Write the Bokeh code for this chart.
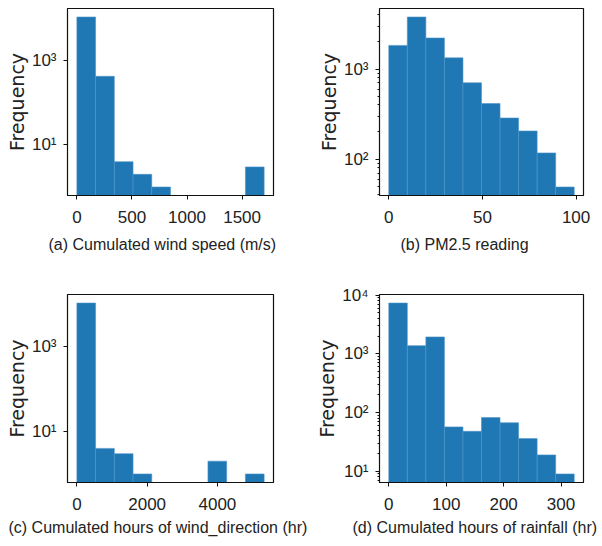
from bokeh.plotting import figure
from bokeh.models import Range1d, FixedTicker, Title
from bokeh.layouts import column, row
from bokeh.embed import file_html
from bokeh.resources import INLINE
import math

# ---- data ----
wind_speed_edges = [0, 170, 340, 510, 680, 850, 1020, 1190, 1360, 1530, 1700]
wind_speed_counts = [11000, 428, 4, 2, 1, 0, 0, 0, 0, 3]

pm25_edges = [0, 9.9, 19.8, 29.7, 39.6, 49.5, 59.4, 69.3, 79.2, 89.1, 99.0]
pm25_counts = [1830, 3780, 2210, 1330, 703, 414, 286, 205, 117, 49]

wind_dir_edges = [0, 533, 1066, 1599, 2132, 2665, 3198, 3731, 4264, 4797, 5330]
wind_dir_counts = [10600, 4, 3, 1, 0, 0, 0, 2, 0, 1]

rain_edges = [0, 32.3, 64.6, 96.9, 129.2, 161.5, 193.8, 226.1, 258.4, 290.7, 323]
rain_counts = [7330, 1380, 1940, 57, 48, 82, 67, 36, 19, 9]

captions = ["(a) Cumulated wind speed (m/s)", "(b) PM2.5 reading",
            "(c) Cumulated hours of wind_direction (hr)", "(d) Cumulated hours of rainfall (hr)"]
xticks = [[0, 500, 1000, 1500], [0, 50, 100], [0, 2000, 4000], [0, 100, 200, 300]]
yticks = [[10, 1000], [100, 1000], [10, 1000], [10, 100, 1000, 10000]]
sup = {10: "10\u00b9", 100: "10\u00b2", 1000: "10\u00b3", 10000: "10\u2074"}

BAR = "#1f77b4"
SANS = "Liberation Sans"
INK = "#222222"


def minor_ticks(lo, hi):
    out = []
    for e in range(int(math.floor(math.log10(lo))), int(math.ceil(math.log10(hi))) + 1):
        for m in range(2, 10):
            v = m * 10 ** e
            if lo <= v <= hi:
                out.append(v)
    return out


def make(edges, counts, caption, xt, yt, fw, fh, left, right, top, bottom,
         cap_offset, cap_standoff, show_minor):
    xs = edges[0]
    xe = edges[-1]
    xm = 0.05 * (xe - xs)
    nz = [c for c in counts if c > 0]
    lmin, lmax = math.log10(min(nz)), math.log10(max(nz))
    lm = 0.05 * (lmax - lmin)
    y0, y1 = 10 ** (lmin - lm), 10 ** (lmax + lm)

    p = figure(frame_width=fw, frame_height=fh, y_axis_type="log", output_backend="svg",
               toolbar_location=None, x_range=Range1d(xs - xm, xe + xm),
               y_range=Range1d(y0, y1),
               min_border_left=left, min_border_right=right,
               min_border_top=top, min_border_bottom=bottom)
    L = [edges[i] for i in range(len(counts)) if counts[i] > 0]
    R = [edges[i + 1] for i in range(len(counts)) if counts[i] > 0]
    T = [c for c in counts if c > 0]
    p.quad(left=L, right=R, top=T, bottom=y0, fill_color=BAR,
           line_color="#4f93c8", line_width=0.6)
    p.xgrid.visible = False
    p.ygrid.visible = False
    p.outline_line_color = "#111111"
    p.outline_line_width = 1.2
    for ax in (p.xaxis[0], p.yaxis[0]):
        ax.axis_line_color = "#111111"
        ax.major_tick_line_color = "#111111"
        ax.minor_tick_line_color = "#111111"
        ax.major_tick_in = 0
        ax.major_tick_out = 4
        ax.minor_tick_in = 0
        ax.minor_tick_out = 2
        ax.major_label_text_font = SANS
        ax.major_label_text_font_size = "17px"
        ax.major_label_text_color = INK
    p.xaxis[0].ticker = FixedTicker(ticks=xt)
    p.xaxis[0].major_label_standoff = 11
    p.yaxis[0].ticker = FixedTicker(ticks=yt, minor_ticks=minor_ticks(y0, y1) if show_minor else [])
    p.yaxis[0].major_label_overrides = {t: sup[t] for t in yt}
    p.yaxis[0].major_label_standoff = 7
    p.yaxis[0].axis_label = "Frequency"
    p.yaxis[0].axis_label_text_font = "DejaVu Sans"
    p.yaxis[0].axis_label_text_font_style = "normal"
    p.yaxis[0].axis_label_text_font_size = "19px"
    p.yaxis[0].axis_label_text_color = INK
    p.yaxis[0].axis_label_standoff = 1
    t = Title(text=caption, align="left", offset=cap_offset, text_font=SANS,
              text_font_size="16px", text_font_style="normal", text_color=INK,
              standoff=cap_standoff)
    p.add_layout(t, "below")
    return p


pa = make(wind_speed_edges, wind_speed_counts, captions[0], xticks[0], yticks[0],
          206, 187, 67, 39, 8, 85, -19, 17, False)
pb = make(pm25_edges, pm25_counts, captions[1], xticks[1], yticks[1],
          204, 187, 67, 15, 8, 85, 21, 17, True)
pc = make(wind_dir_edges, wind_dir_counts, captions[2], xticks[2], yticks[2],
          206, 188, 67, 39, 14, 63, -59, 9, False)
pd = make(rain_edges, rain_counts, captions[3], xticks[3], yticks[3],
          204, 188, 67, 15, 14, 63, -27, 9, True)

layout = column(row(pa, pb), row(pc, pd))
open("out.html", "w").write(file_html(layout, INLINE))
